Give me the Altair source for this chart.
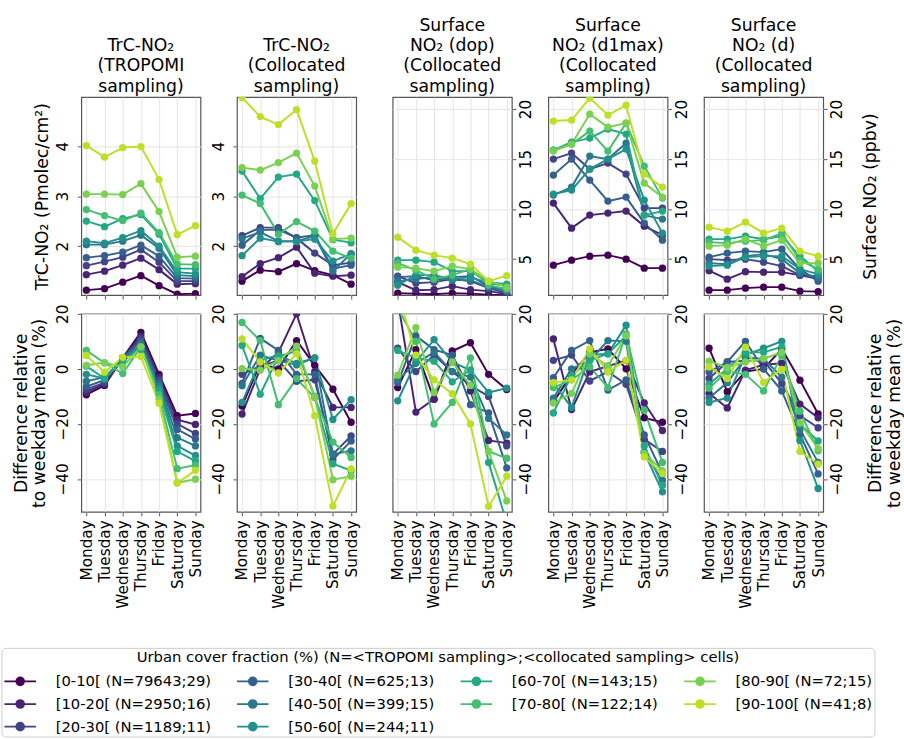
import altair as alt
import pandas as pd

FONT = "DejaVu Sans"

days = ["Monday", "Tuesday", "Wednesday", "Thursday", "Friday", "Saturday", "Sunday"]

classes = [
    "[0-10[ (N=79643;29)", "[10-20[ (N=2950;16)", "[20-30[ (N=1189;11)",
    "[30-40[ (N=625;13)", "[40-50[ (N=399;15)", "[50-60[ (N=244;11)",
    "[60-70[ (N=143;15)", "[70-80[ (N=122;14)", "[80-90[ (N=72;15)",
    "[90-100[ (N=41;8)",
]
colors = ["#440154", "#482475", "#414487", "#355f8d", "#2a788e",
          "#21918c", "#22a884", "#44bf70", "#7ad151", "#bddf26"]

# Tropospheric column NO2 (Pmolec/cm2), TROPOMI sampling
trc_tropomi = [
    [1.12, 1.15, 1.28, 1.41, 1.21, 1.04, 1.05],
    [1.43, 1.50, 1.62, 1.76, 1.53, 1.24, 1.25],
    [1.61, 1.69, 1.78, 1.93, 1.68, 1.30, 1.30],
    [1.77, 1.81, 1.88, 2.02, 1.80, 1.36, 1.35],
    [2.03, 2.03, 2.10, 2.22, 1.96, 1.42, 1.40],
    [2.10, 2.06, 2.17, 2.31, 2.00, 1.48, 1.45],
    [2.50, 2.39, 2.55, 2.63, 2.24, 1.55, 1.55],
    [2.73, 2.61, 2.51, 2.66, 2.27, 1.64, 1.63],
    [3.04, 3.04, 3.03, 3.25, 2.69, 1.78, 1.80],
    [4.01, 3.78, 3.97, 3.99, 3.33, 2.23, 2.41],
]
# Tropospheric column NO2 (Pmolec/cm2), collocated sampling
trc_colloc = [
    [1.30, 1.52, 1.49, 1.65, 1.51, 1.42, 1.24],
    [1.39, 1.65, 1.77, 1.98, 1.46, 1.40, 1.42],
    [2.21, 2.37, 2.37, 2.16, 1.86, 1.62, 1.67],
    [2.02, 2.32, 2.33, 2.17, 2.22, 1.55, 1.62],
    [2.15, 2.28, 2.10, 2.10, 2.20, 1.50, 1.85],
    [1.81, 2.16, 2.09, 2.09, 2.14, 1.70, 1.84],
    [3.50, 2.95, 3.38, 3.44, 2.91, 2.13, 2.07],
    [3.02, 2.85, 2.24, 2.49, 2.30, 1.90, 1.76],
    [3.57, 3.52, 3.67, 3.86, 3.20, 2.14, 2.16],
    [4.97, 4.59, 4.43, 4.73, 3.70, 2.25, 2.85],
]
# Surface NO2 (ppbv) at overpass time
sfc_dop = [
    [1.60, 1.55, 1.50, 1.60, 1.55, 1.45, 1.40],
    [2.70, 1.90, 1.95, 2.30, 1.95, 1.80, 1.50],
    [3.30, 2.60, 2.70, 3.00, 2.80, 2.10, 1.60],
    [3.20, 3.30, 2.90, 3.20, 3.30, 2.30, 2.00],
    [2.80, 3.00, 3.20, 2.90, 2.90, 2.20, 1.80],
    [2.40, 3.40, 3.40, 3.00, 3.20, 2.60, 2.30],
    [4.90, 4.90, 4.70, 3.80, 3.80, 2.70, 2.50],
    [4.60, 3.90, 3.00, 3.40, 4.00, 2.40, 2.00],
    [4.20, 4.10, 3.80, 4.30, 4.00, 2.80, 2.20],
    [7.20, 5.90, 5.40, 5.10, 4.50, 2.80, 3.35],
]
# Surface NO2 (ppbv), daily 1-hour maximum
sfc_d1max = [
    [4.4, 4.9, 5.3, 5.4, 5.0, 4.1, 4.1],
    [10.6, 8.1, 9.4, 9.6, 9.8, 8.3, 7.4],
    [15.0, 15.6, 14.0, 14.6, 13.5, 10.1, 10.1],
    [13.4, 15.0, 12.9, 10.8, 11.2, 8.6, 6.9],
    [11.4, 12.2, 15.3, 15.0, 16.6, 9.4, 9.0],
    [11.5, 11.9, 14.0, 15.0, 16.0, 10.9, 7.6],
    [15.9, 16.7, 17.1, 18.0, 17.5, 9.4, 9.8],
    [15.9, 16.5, 17.8, 15.8, 18.6, 14.3, 11.1],
    [15.8, 16.5, 19.5, 18.2, 18.6, 12.6, 11.2],
    [18.8, 18.9, 21.1, 19.4, 20.4, 13.5, 12.2],
]
# Surface NO2 (ppbv), daily mean
sfc_d = [
    [1.90, 1.90, 2.10, 2.20, 2.20, 1.80, 1.75],
    [3.85, 3.00, 3.75, 3.70, 3.70, 3.40, 3.30],
    [5.00, 4.90, 5.00, 4.70, 4.30, 3.40, 3.00],
    [5.20, 5.60, 5.80, 5.70, 6.00, 4.00, 2.80],
    [4.60, 4.50, 5.30, 5.50, 5.00, 3.60, 3.20],
    [4.30, 4.40, 5.20, 5.30, 5.30, 4.00, 3.50],
    [7.00, 7.00, 7.30, 7.00, 7.30, 5.30, 3.80],
    [6.70, 6.60, 6.80, 6.90, 7.60, 4.90, 4.00],
    [6.30, 6.40, 7.00, 6.30, 6.90, 4.60, 4.60],
    [8.20, 7.80, 8.70, 7.60, 8.10, 5.80, 5.30],
]

# Difference relative to the weekday mean (%)
diff_trc_tropomi = [
    [-9.4, -6.0, 4.0, 13.3, -2.0, -17.0, -16.2],
    [-8.5, -5.5, 4.0, 12.0, -3.0, -18.5, -20.2],
    [-7.5, -5.0, 4.0, 11.0, -4.0, -20.0, -23.5],
    [-6.5, -4.0, 4.0, 10.0, -5.0, -22.0, -25.5],
    [-4.5, -3.0, 3.5, 9.0, -6.0, -25.0, -28.0],
    [-2.0, -3.5, 3.0, 8.0, -7.0, -28.0, -31.5],
    [1.0, -3.5, 3.0, 7.0, -8.0, -30.0, -33.5],
    [6.7, 2.2, -1.7, 8.0, -9.5, -36.3, -35.0],
    [1.3, 2.3, 0.7, 8.0, -11.0, -41.4, -40.1],
    [4.9, -1.2, 4.2, 4.5, -12.5, -41.5, -36.9],
]
diff_trc_colloc = [
    [-13.5, 2.0, 0.0, 10.3, 1.3, -7.4, -19.4],
    [-16.4, 0.0, 6.0, 20.0, -1.0, -14.0, -14.0],
    [-2.0, 1.0, 3.0, -4.5, -4.0, -31.0, -24.4],
    [-5.3, 11.1, 6.7, -2.0, -2.0, -33.0, -26.2],
    [-6.1, 5.0, 3.0, 1.5, 4.0, -31.0, -29.8],
    [-12.2, 3.0, 5.0, 2.0, 4.0, -18.4, -11.2],
    [8.5, -9.2, 4.5, 6.5, -10.0, -34.5, -37.0],
    [16.9, 10.3, -13.0, -3.6, -10.4, -26.6, -32.2],
    [0.1, -0.5, 3.0, 8.3, -10.2, -40.3, -39.0],
    [10.9, 2.5, -1.5, 5.5, -17.0, -49.9, -36.4],
]
diff_sfc_dop = [
    [-6.8, 7.0, -11.0, 6.5, 9.5, -2.0, -7.5],
    [25.0, -15.7, -11.0, 5.0, -8.0, -26.0, -27.0],
    [7.5, -1.0, 5.0, -1.0, -6.0, -10.0, -28.0],
    [-5.0, 12.0, 7.0, 5.0, -13.0, -16.0, -36.0],
    [-4.0, 2.0, 6.0, -1.0, -3.0, -18.0, -24.0],
    [-11.6, 2.5, 10.6, 2.5, -0.5, -8.6, -7.0],
    [6.7, 4.0, 2.8, -4.7, -0.5, -34.0, -56.0],
    [22.0, 10.0, -20.0, -12.2, 4.0, -30.0, -32.5],
    [-2.3, 15.0, -8.6, 2.5, -6.0, -30.0, -48.0],
    [28.0, 5.0, -4.0, -9.0, -20.0, -50.0, -39.0],
]
diff_sfc_d1max = [
    [-12.0, -2.0, 6.0, 7.3, 0.0, -17.8, -19.4],
    [10.9, -14.8, -1.1, 1.0, 3.0, -12.4, -22.4],
    [3.1, 5.0, -4.4, -1.0, -5.6, -25.6, -30.0],
    [-3.2, 6.7, 10.3, -7.7, -4.0, -24.0, -38.0],
    [-10.6, 0.0, 3.0, 10.3, 10.0, -30.4, -40.5],
    [-5.3, -14.0, 5.0, 5.5, 15.9, -30.4, -44.7],
    [-16.0, -2.3, 3.1, 5.5, 12.0, -28.0, -42.3],
    [-6.8, -4.0, 0.7, -6.8, 12.7, -15.0, -34.0],
    [-12.4, -8.9, 5.5, 1.0, 12.0, -30.7, -37.0],
    [-5.0, -4.0, 7.3, -1.1, 3.1, -32.0, -38.0],
]
diff_sfc_d = [
    [7.5, -8.3, -1.0, 0.0, 7.3, -4.1, -16.4],
    [-8.9, -14.2, -0.5, 1.5, 2.0, -12.8, -17.8],
    [-3.5, 2.5, 3.0, 3.0, -5.3, -17.0, -21.4],
    [-1.1, 2.5, 10.0, 0.0, -8.0, -23.8, -38.2],
    [-10.6, -5.0, 4.0, 3.7, -3.0, -22.0, -34.0],
    [-12.2, -10.6, 5.0, 7.5, 10.0, -26.0, -43.5],
    [-5.6, 0.0, 6.0, 6.0, 8.0, -20.0, -26.2],
    [-7.0, -1.0, -2.0, -8.0, 4.9, -15.4, -29.8],
    [2.8, 0.5, 2.5, 3.7, 6.0, -19.6, -29.0],
    [0.7, -3.5, 7.9, -4.9, -0.2, -30.0, -34.6],
]

panel_titles = {
    "trc_tropomi": ["TrC-NO\u2082", "(TROPOMI", "sampling)"],
    "trc_colloc": ["TrC-NO\u2082", "(Collocated", "sampling)"],
    "sfc_dop": ["Surface", "NO\u2082 (dop)", "(Collocated", "sampling)"],
    "sfc_d1max": ["Surface", "NO\u2082 (d1max)", "(Collocated", "sampling)"],
    "sfc_d": ["Surface", "NO\u2082 (d)", "(Collocated", "sampling)"],
}

legend_title = "Urban cover fraction (%) (N=<TROPOMI sampling>;<collocated sampling> cells)"
diff_title = ["Difference relative", "to weekday mean (%)"]

# legend entries listed row by row so that the 4-column grid reads down each column
legend_idx = [0, 3, 6, 8, 1, 4, 7, 9, 2, 5]
color_scale = alt.Scale(domain=[classes[i] for i in legend_idx],
                        range=[colors[i] for i in legend_idx])

# a short line with a dot in its middle, starting at the entry's left edge
SYMBOL = "M-1,0L3,0M1.5,0A0.5,0.5,0,1,1,0.5,0A0.5,0.5,0,1,1,1.5,0Z"

legend = alt.Legend(
    title=legend_title, orient="none", legendX=-81, legendY=559, columns=4,
    direction="horizontal", gridAlign="each",
    symbolType=SYMBOL, symbolSize=256, symbolStrokeWidth=1.8, symbolOpacity=1,
    labelFont=FONT, labelFontSize=15, labelColor="#000000", labelOffset=35,
    labelLimit=400, titleFont=FONT, titleFontSize=15, titleFontWeight="normal",
    titleColor="#000000", titleAnchor="middle", titlePadding=8, titleLimit=900,
    columnPadding=22, rowPadding=6, padding=2, strokeColor="#cccccc",
    cornerRadius=4, fillColor="#ffffff",
)


def to_frame(table):
    rows = []
    for cls, vals in zip(classes, table):
        for d, v in zip(days, vals):
            rows.append({"cls": cls, "day": d, "value": v})
    return pd.DataFrame(rows)


def x_axis(show_labels):
    return alt.Axis(title=None, labels=show_labels, labelAngle=270,
                    labelAlign="right", labelBaseline="middle", labelPadding=4,
                    ticks=True, tickSize=4, grid=True, domain=False)


def y_axis(orient, values, title, title_x):
    left = orient == "left"
    kw = dict(orient=orient, values=values, format="d", labelAngle=270,
              labelAlign="center", labelBaseline="bottom" if left else "top",
              labelPadding=7 if left else 3, tickSize=4, grid=True,
              domain=False, labelFlush=False, labelOverlap=False)
    if title is not None:
        # title_x is the centre of the (possibly two-line) title block
        kw.update(title=title, titleAngle=270, titleAlign="center",
                  titleBaseline="middle", titleLineHeight=18.5,
                  titleX=title_x, titleY=100.5)
    else:
        kw.update(title=None)
    return alt.Axis(**kw)


def panel(key, table, domain, ticks, orient, bottom, ytitle=None, title_x=0):
    base = alt.Chart(to_frame(table))
    x = alt.X("day:N", sort=days, scale=alt.Scale(type="point", padding=0.28),
              axis=x_axis(bottom))
    y = alt.Y("value:Q", scale=alt.Scale(domain=domain, nice=False, zero=False),
              axis=y_axis(orient, ticks, ytitle, title_x))
    color = alt.Color("cls:N", scale=color_scale, legend=legend)
    lines = base.mark_line(strokeWidth=2, clip=True).encode(x=x, y=y, color=color)
    dots = base.mark_circle(size=55, opacity=1, clip=True).encode(x=x, y=y, color=color)
    ch = alt.layer(lines, dots).properties(width=121, height=201)
    if not bottom:
        ch = ch.properties(title=alt.TitleParams(
            text=panel_titles[key], fontSize=17.5, font=FONT, fontWeight="normal",
            anchor="middle", frame="group", offset=2, lineHeight=20.5,
            color="#000000"))
    return ch


TRC_DOM = [1.02, 4.98]
SFC_DOM = [1.4, 21.2]
DIFF_DOM = [-52, 20]
TRC_TICKS = [2, 3, 4]
SFC_TICKS = [5, 10, 15, 20]
DIFF_TICKS = [20, 0, -20, -40]

panels = [
    panel("trc_tropomi", trc_tropomi, TRC_DOM, TRC_TICKS, "left", False,
          "TrC-NO\u2082  (Pmolec/cm\u00b2)", -39.5),
    panel("trc_colloc", trc_colloc, TRC_DOM, TRC_TICKS, "left", False),
    panel("sfc_dop", sfc_dop, SFC_DOM, SFC_TICKS, "right", False),
    panel("sfc_d1max", sfc_d1max, SFC_DOM, SFC_TICKS, "right", False),
    panel("sfc_d", sfc_d, SFC_DOM, SFC_TICKS, "right", False,
          "Surface NO\u2082  (ppbv)", 48),
    panel("trc_tropomi", diff_trc_tropomi, DIFF_DOM, DIFF_TICKS, "left", True,
          diff_title, -61),
    panel("trc_colloc", diff_trc_colloc, DIFF_DOM, DIFF_TICKS, "left", True),
    panel("sfc_dop", diff_sfc_dop, DIFF_DOM, DIFF_TICKS, "right", True),
    panel("sfc_d1max", diff_sfc_d1max, DIFF_DOM, DIFF_TICKS, "right", True),
    panel("sfc_d", diff_sfc_d, DIFF_DOM, DIFF_TICKS, "right", True,
          diff_title, 53.5),
]

chart = alt.concat(
    *panels, columns=5, spacing={"row": 19, "column": 37}, bounds="flush",
).properties(
    padding={"left": 0.5, "top": 11, "right": 0, "bottom": 0},
    autosize=alt.AutoSizeParams(type="pad"),
    background="#ffffff",
).configure_view(
    stroke="#555555", strokeWidth=1.2,
).configure_axis(
    labelFont=FONT, titleFont=FONT, labelFontSize=15.5, titleFontSize=17.5,
    labelColor="#000000", titleColor="#000000", titleFontWeight="normal",
    tickColor="#555555", tickWidth=1, gridColor="#e5e5e5", gridWidth=1,
)

chart.save("out.html", embed_options={"renderer": "svg", "actions": False})
